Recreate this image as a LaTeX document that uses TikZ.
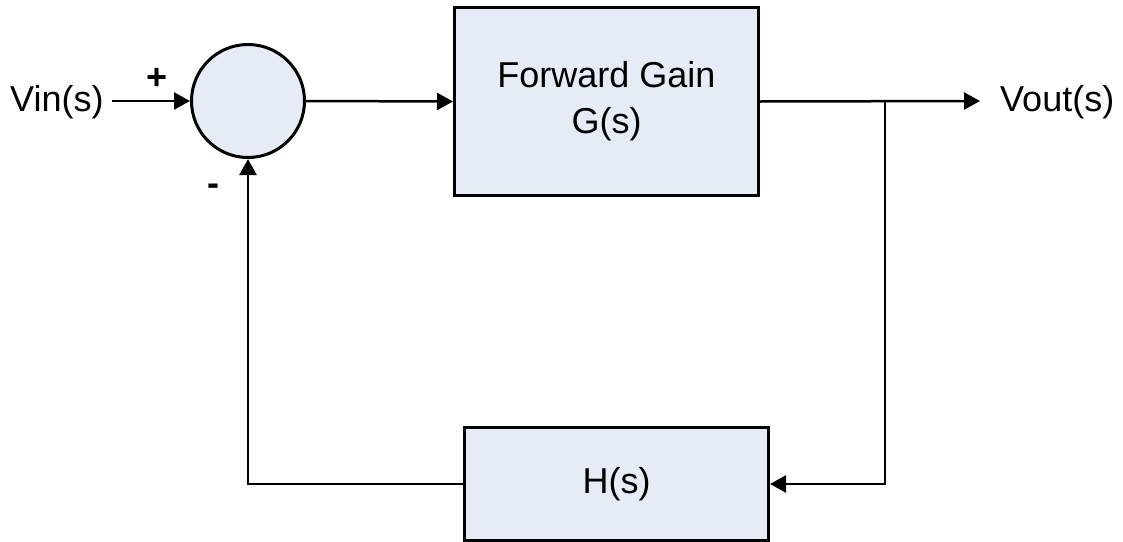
\documentclass[tikz,border=0pt]{standalone}
\usepackage{fontspec}
\setmainfont{Liberation Sans}
\usetikzlibrary{arrows.meta}
\definecolor{boxfill}{RGB}{230,236,246}
\begin{document}
\begin{tikzpicture}[x=1pt,y=-1pt,
  blk/.style={draw=black, line width=3pt, fill=boxfill, inner sep=0pt},
  sumnode/.style={circle, draw=black, line width=3pt, fill=boxfill, minimum size=113pt, inner sep=0pt},
  conn/.style={line width=2.5pt},
  arr/.style={conn, -{Triangle[length=16pt,width=17pt]}},
  lbl/.style={font=\fontsize{36}{46}\selectfont, inner sep=0pt},
  sign/.style={font=\fontsize{36}{44}\selectfont\bfseries, inner sep=0pt}]
\useasboundingbox (0,0) rectangle (1123,541);
\node[sumnode] (sum) at (248,101) {};
\node[blk, lbl, minimum width=304pt, minimum height=188pt, align=center] (G) at (606.5,101.5) {Forward Gain\\G(s)};
\node[blk, lbl, minimum width=304pt, minimum height=113pt] (H) at (616.5,484) {H(s)};
\node[lbl, anchor=base west] (vin) at (10,111) {Vin(s)};
\node[lbl, anchor=base west] (vout) at (1000,111) {Vout(s)};
\node[sign] (plus) at (157,79) {+};
\node[sign] (minus) at (213,190) {-};
\coordinate (vinend) at (112,101);
\coordinate (split) at (885,101);
\coordinate (outend) at (980,101);
\draw[arr] (vinend) -- (sum.west);
\draw[arr] (sum.east) -- (G.west);
\draw[arr] (G.east) -- (outend);
\draw[arr] (split) |- (H.east);
\draw[arr] (H.west) -| (sum.south);
\end{tikzpicture}
\end{document}
